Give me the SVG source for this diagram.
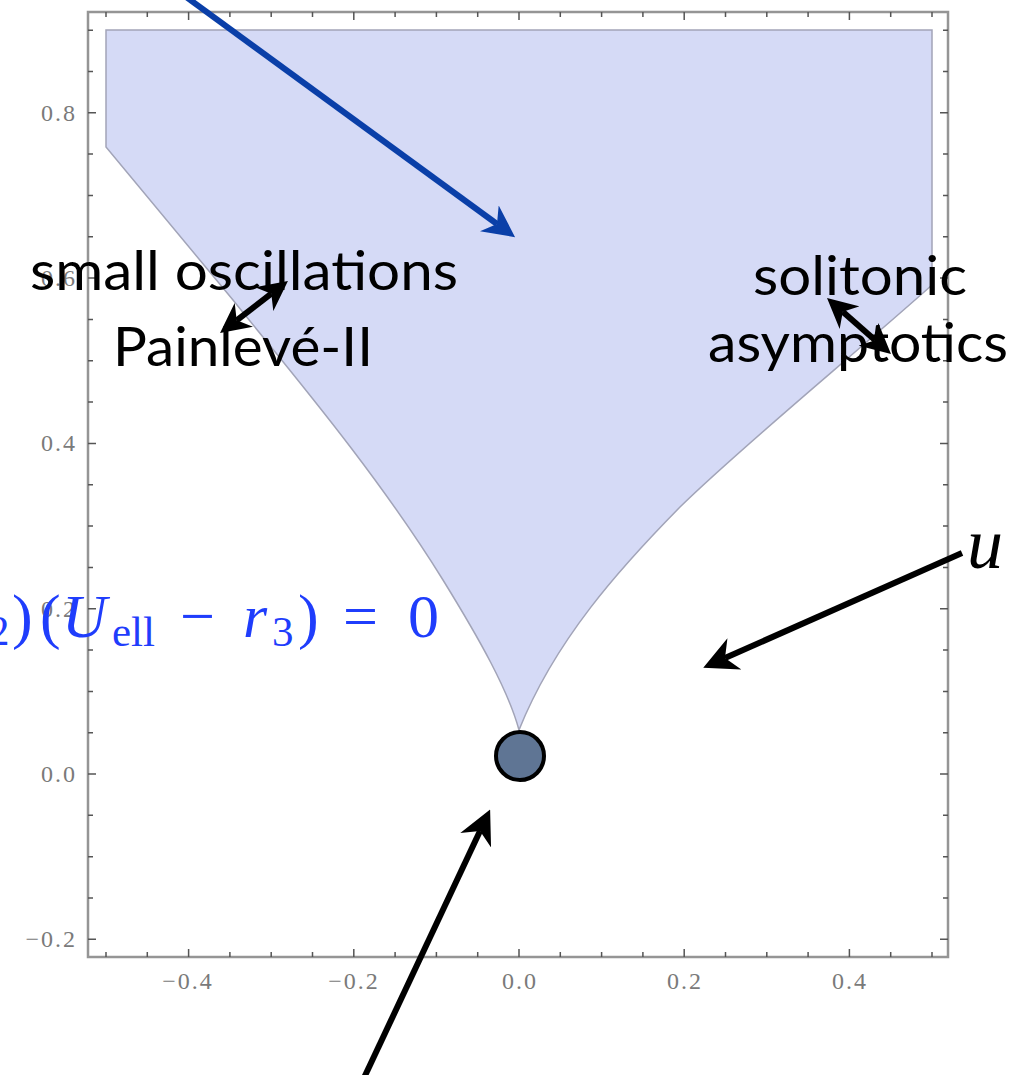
<svg xmlns="http://www.w3.org/2000/svg" width="1014" height="1075" viewBox="0 0 1014 1075">
<style>
.frame{fill:none;stroke:#959595;stroke-width:2.5}
.tick{fill:none;stroke:#555;stroke-width:1.5}
.tl{font-family:"Liberation Serif",serif;font-size:24px;letter-spacing:2px;fill:#7a7a7a}
.lbl{font-family:Lato,"Open Sans",sans-serif;font-size:54px;fill:#000}
.eq{font-family:"Liberation Serif",serif;font-size:62px;fill:#1f3dfc}
.sub{font-size:43px}
.it{font-style:italic}
.blk{fill:none;stroke:#000;stroke-width:6}
.dbl{fill:none;stroke:#000;stroke-width:6}
</style>
<defs>
<marker id="ah" viewBox="0 0 10 10" refX="3" refY="5" markerWidth="34" markerHeight="34" markerUnits="userSpaceOnUse" orient="auto-start-reverse"><path d="M0,0 L10,5 L0,10 L3,5 Z" fill="#000"/></marker>
<marker id="ahs" viewBox="0 0 10 10" refX="3" refY="5" markerWidth="30" markerHeight="30" markerUnits="userSpaceOnUse" orient="auto-start-reverse"><path d="M0,0 L10,5 L0,10 L3,5 Z" fill="#000"/></marker>
<marker id="ahb" viewBox="0 0 10 10" refX="3" refY="5" markerWidth="32" markerHeight="32" markerUnits="userSpaceOnUse" orient="auto-start-reverse"><path d="M0,0 L10,5 L0,10 L3,5 Z" fill="#0a3fa8"/></marker>
</defs>
<rect width="1014" height="1075" fill="#fff"/>
<g id="plot">
<path id="region" d="M106,30 L932,30 L932,285 C850,358 740,448 680,507 C620,568 555,640 519,730 C508,690 480,640 443,580 C375,470 285,365 233,300 L106,147 Z" fill="#d5daf6" stroke="#a2a4b8" stroke-width="1.5"/>
<rect class="frame" x="88" y="12" width="860" height="945"/>
<path class="tick" d="M88,30.2h5M88,71.5h5M88,112.8h8M88,154.1h5M88,195.5h5M88,236.8h5M88,278.1h8M88,319.4h5M88,360.8h5M88,402.1h5M88,443.4h8M88,484.7h5M88,526.1h5M88,567.4h5M88,608.7h8M88,650h5M88,691.4h5M88,732.7h5M88,774h8M88,815.3h5M88,856.7h5M88,898h5M88,939.3h8
M948,30.2h-5M948,71.5h-5M948,112.8h-8M948,154.1h-5M948,195.5h-5M948,236.8h-5M948,278.1h-8M948,319.4h-5M948,360.8h-5M948,402.1h-5M948,443.4h-8M948,484.7h-5M948,526.1h-5M948,567.4h-5M948,608.7h-8M948,650h-5M948,691.4h-5M948,732.7h-5M948,774h-8M948,815.3h-5M948,856.7h-5M948,898h-5M948,939.3h-8
M106,957v-5M147.3,957v-5M188.6,957v-8M229.9,957v-5M271.2,957v-5M312.5,957v-5M353.8,957v-8M395.1,957v-5M436.4,957v-5M477.7,957v-5M519,957v-8M560.3,957v-5M601.6,957v-5M642.9,957v-5M684.2,957v-8M725.5,957v-5M766.8,957v-5M808.1,957v-5M849.4,957v-8M890.7,957v-5M932,957v-5
M106,12v5M147.3,12v5M188.6,12v8M229.9,12v5M271.2,12v5M312.5,12v5M353.8,12v8M395.1,12v5M436.4,12v5M477.7,12v5M519,12v8M560.3,12v5M601.6,12v5M642.9,12v5M684.2,12v8M725.5,12v5M766.8,12v5M808.1,12v5M849.4,12v8M890.7,12v5M932,12v5"/>
<g text-anchor="end" class="tl">
<text x="77" y="947">−0.2</text>
<text x="77" y="782">0.0</text>
<text x="77" y="617">0.2</text>
<text x="77" y="451">0.4</text>
<text x="77" y="286">0.6</text>
<text x="77" y="121">0.8</text>
</g>
<g text-anchor="middle" class="tl">
<text x="188" y="989">−0.4</text>
<text x="354" y="989">−0.2</text>
<text x="520" y="989">0.0</text>
<text x="685" y="989">0.2</text>
<text x="850" y="989">0.4</text>
</g>
</g>
<g id="point"><circle cx="520" cy="756" r="24" fill="#5f7594" stroke="#000" stroke-width="4"/></g>
<g id="label-small-osc"><text class="lbl" x="30" y="290" textLength="428" lengthAdjust="spacingAndGlyphs">small oscillations</text></g>
<g id="label-painleve"><text class="lbl" x="113" y="366" textLength="260" lengthAdjust="spacingAndGlyphs">Painlevé-II</text></g>
<g id="label-solitonic"><text class="lbl" x="753" y="295" textLength="214" lengthAdjust="spacingAndGlyphs">solitonic</text></g>
<g id="label-asymptotics"><text class="lbl" x="708" y="362" textLength="300" lengthAdjust="spacingAndGlyphs">asymptotics</text></g>
<g id="label-u"><text x="967" y="568" font-family="'Liberation Serif',serif" font-style="italic" font-size="72" fill="#000">u</text></g>
<g id="equation"><text class="eq"><tspan class="sub" x="-12" y="645">2</tspan><tspan x="12" y="637">)</tspan><tspan x="40" y="637">(</tspan><tspan class="it" x="62" y="637">U</tspan><tspan class="sub" x="112" y="646">ell</tspan><tspan x="180" y="637">−</tspan><tspan class="it" x="243" y="637">r</tspan><tspan class="sub" x="272" y="646">3</tspan><tspan x="298" y="637">)</tspan><tspan x="343" y="637">=</tspan><tspan x="408" y="637">0</tspan></text></g>
<g id="connectors">
<line x1="178" y1="-9" x2="497" y2="224" stroke="#0a3fa8" stroke-width="6" marker-end="url(#ahb)"/>
<line class="dbl" x1="236.7" y1="320.3" x2="271.3" y2="293.7" marker-start="url(#ahs)" marker-end="url(#ahs)"/>
<line class="dbl" x1="842.8" y1="311.8" x2="875.2" y2="340.2" marker-start="url(#ahs)" marker-end="url(#ahs)"/>
<line class="blk" x1="962" y1="553" x2="725" y2="658" marker-end="url(#ah)"/>
<line class="blk" x1="363" y1="1080" x2="480" y2="831" marker-end="url(#ah)"/>
</g>
</svg>
